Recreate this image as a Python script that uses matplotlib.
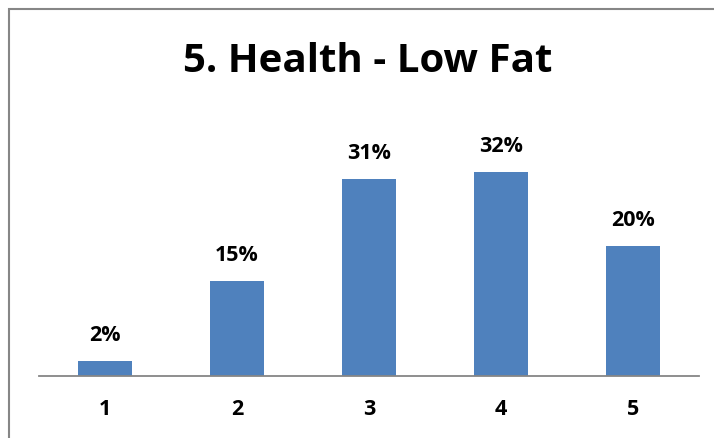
import matplotlib
matplotlib.use("Agg")
import matplotlib.pyplot as plt
from matplotlib.patches import Rectangle

categories = ["1", "2", "3", "4", "5"]
percents = [2.4, 15.0, 31.0, 32.0, 20.4]
title = "5. Health - Low Fat"


def main():
    plt.rcParams["font.family"] = ["Open Sans", "DejaVu Sans"]
    fig = plt.figure(figsize=(7.14, 4.39), dpi=100)
    ax = fig.add_axes([39 / 714, 62 / 439, 660 / 714, 247 / 439])

    x = range(len(categories))
    bars = ax.bar(x, percents, width=0.41, color="#4F81BD", zorder=2)
    for b, v in zip(bars, percents):
        ax.annotate(f"{round(v)}%", (b.get_x() + b.get_width() / 2, v),
                    xytext=(0, 16), textcoords="offset pixels",
                    ha="center", va="bottom", fontsize=15.5, fontweight="bold")

    ax.set_xlim(-0.5, len(categories) - 0.5)
    ax.set_ylim(0, 38.8)
    ax.set_xticks(list(x))
    ax.set_xticklabels(categories, fontsize=15.5, fontweight="bold")
    ax.tick_params(axis="x", length=0, pad=16)
    ax.set_yticks([])
    for side in ["top", "right", "left"]:
        ax.spines[side].set_visible(False)
    ax.spines["bottom"].set_color("#868686")
    ax.spines["bottom"].set_linewidth(1.3)

    fig.text(368 / 714, 1 - 62 / 439, title, ha="center", va="center",
             fontsize=29, fontweight="bold")

    # chart border, cut off on the right and bottom like the original
    fig.patches.append(Rectangle((9 / 714, -0.1), 1.0, 0.1 + 1 - 9.5 / 439,
                                 transform=fig.transFigure, fill=False,
                                 edgecolor="#868686", linewidth=1.5))

    fig.savefig("out.png", dpi=100)


if __name__ == "__main__":
    main()
